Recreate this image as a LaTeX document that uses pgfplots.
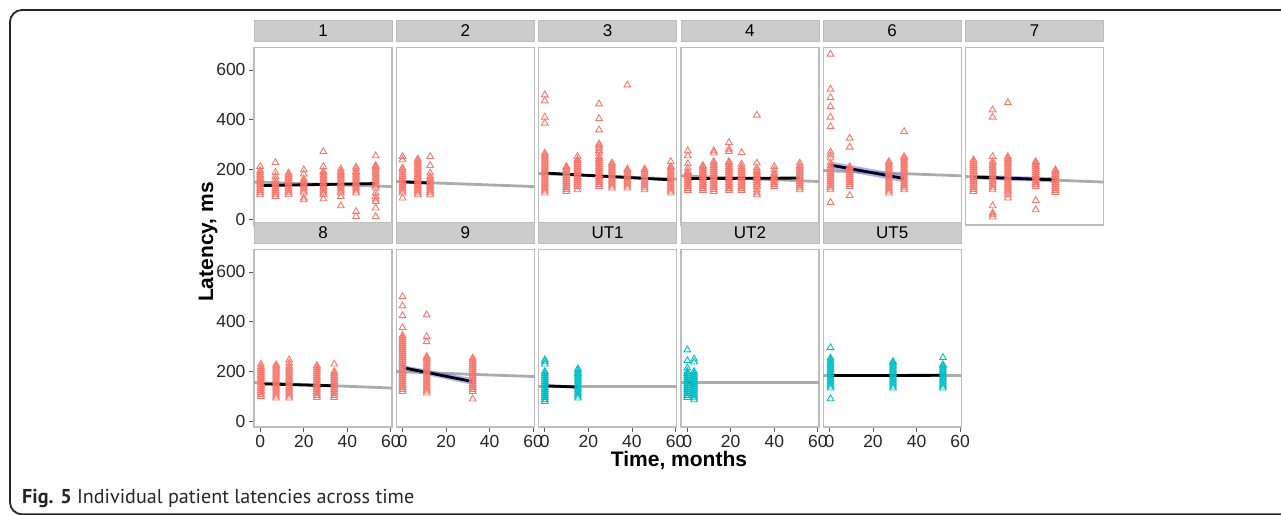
\documentclass[border=0pt]{standalone}
\usepackage{fontspec}
\setmainfont{Liberation Sans}
\newfontfamily\capfont{PT Sans}
\usepackage{pgfplots}
\pgfplotsset{compat=1.18}
\definecolor{ggred}{HTML}{F8766D}
\definecolor{ggcyan}{HTML}{00BFC4}
\definecolor{stripfill}{HTML}{CCCCCC}
\definecolor{panelborder}{HTML}{BDBDBD}
\definecolor{popgray}{HTML}{A3A3A3}
\definecolor{bandblue}{HTML}{6E6EFF}
\pgfplotsset{
  panel/.style={
    scale only axis, width=138pt, height=177.5pt,
    xmin=-2.85, xmax=60.5, ymin=-21, ymax=690,
    axis line style={draw=panelborder, line width=1.2pt},
    tick align=outside, major tick length=5pt,
    every tick/.style={black!65, line width=0.9pt},
    xtick={0,20,40,60}, ytick={0,200,400,600},
    xtick pos=left, ytick pos=left,
    tick label style={font=\fontsize{17.5}{17.5}\selectfont, text=black!85},
    /pgf/number format/assume math mode=true,
    title style={at={(0.5,1)}, anchor=south, yshift=0pt, fill=stripfill, draw=panelborder, line width=0.8pt,
      minimum width=138pt, minimum height=21pt, inner sep=0pt, font=\fontsize{17}{17}\selectfont, text=black},
  },
  noxt/.style={xtick=\empty},
  noyt/.style={ytick=\empty},
  pr/.style={only marks, mark=triangle, mark size=3.9pt, color=ggred, mark options={line width=0.9pt}},
  pc/.style={only marks, mark=triangle, mark size=3.9pt, color=ggcyan, mark options={line width=0.9pt}},
  pop/.style={color=popgray, line width=2.8pt, opacity=0.9},
  band/.style={fill=bandblue, fill opacity=0.55, draw=none},
  fit/.style={color=black, line width=2.8pt},
}
\begin{document}
\begin{tikzpicture}[x=1pt,y=1pt]
\useasboundingbox (0,0) rectangle (1281,514);
\draw[line width=1.8pt, color=black!85, rounded corners=12pt] (10,-0.3) rectangle (1310,504);

% ---------- Row 1 ----------
\begin{axis}[panel, noxt, title={1}, at={(254pt,289pt)}, anchor=south west]
\addplot[pr] coordinates {(0,100)(0,108)(0,116)(0,124)(0,132)(0,140)(0,148)(0,156)(0,164)(0,172)(0,180)(0,188)(0,196)(0,213)
(7,93)(7,100)(7,108)(7,116)(7,124)(7,132)(7,140)(7,147)(7,160)(7,173)(7,189)(7,229)
(13,100)(13,108)(13,116)(13,124)(13,132)(13,140)(13,148)(13,156)(13,164)(13,172)(13,180)(13,187)
(20,80)(20,87)(20,107)(20,115)(20,123)(20,131)(20,139)(20,147)(20,155)(20,163)(20,183)(20,200)
(29,84)(29,100)(29,107)(29,115)(29,123)(29,131)(29,139)(29,147)(29,155)(29,163)(29,171)(29,179)(29,187)(29,193)(29,213)(29,273)
(37,56)(37,93)(37,107)(37,115)(37,123)(37,131)(37,139)(37,147)(37,155)(37,163)(37,171)(37,179)(37,187)(37,193)(37,203)
(44,13)(44,33)(44,107)(44,115)(44,123)(44,131)(44,139)(44,147)(44,155)(44,163)(44,171)(44,179)(44,187)(44,193)(44,203)(44,211)
(53,13)(53,47)(53,73)(53,83)(53,93)(53,107)(53,127)(53,135)(53,143)(53,151)(53,159)(53,167)(53,175)(53,183)(53,191)(53,199)(53,207)(53,213)(53,217)(53,256)};
\addplot[pop] coordinates {(-2.85,151)(60.5,133)};
\addplot[band] coordinates {(0,132)(53,140)(53,150)(0,142)};
\addplot[fit] coordinates {(0,137)(53,145)};
\end{axis}

\begin{axis}[panel, noxt, noyt, title={2}, at={(396.3pt,289pt)}, anchor=south west]
\addplot[pr] coordinates {(0,87)(0,107)(0,115)(0,123)(0,131)(0,139)(0,147)(0,155)(0,163)(0,173)(0,180)(0,190)(0,200)(0,207)(0,240)(0,253)
(7,100)(7,108)(7,116)(7,124)(7,132)(7,140)(7,148)(7,156)(7,164)(7,172)(7,180)(7,188)(7,196)(7,204)(7,212)(7,220)(7,228)(7,236)(7,243)
(12.7,100)(12.7,108)(12.7,116)(12.7,124)(12.7,132)(12.7,140)(12.7,148)(12.7,156)(12.7,164)(12.7,173)(12.7,187)(12.7,217)(12.7,253)};
\addplot[pop] coordinates {(-2.85,153)(60.5,133)};
\addplot[band] coordinates {(0,146)(12.7,141)(12.7,153)(0,158)};
\addplot[fit] coordinates {(0,152)(12.7,147)};
\end{axis}

\begin{axis}[panel, noxt, noyt, title={3}, at={(538.6pt,289pt)}, anchor=south west]
\addplot[pr] coordinates {(0,107)(0,115)(0,123)(0,131)(0,139)(0,147)(0,155)(0,163)(0,171)(0,179)(0,187)(0,195)(0,203)(0,211)(0,219)(0,227)(0,235)(0,243)(0,251)(0,259)(0,267)(0,387)(0,411)(0,476)(0,500)
(9.9,113)(9.9,121)(9.9,129)(9.9,137)(9.9,145)(9.9,153)(9.9,161)(9.9,169)(9.9,177)(9.9,185)(9.9,193)(9.9,201)(9.9,209)(9.9,213)
(15,120)(15,133)(15,141)(15,149)(15,157)(15,165)(15,173)(15,181)(15,189)(15,197)(15,205)(15,213)(15,221)(15,229)(15,237)(15,240)(15,253)
(24.9,133)(24.9,141)(24.9,149)(24.9,157)(24.9,165)(24.9,173)(24.9,181)(24.9,189)(24.9,197)(24.9,205)(24.9,213)(24.9,221)(24.9,229)(24.9,237)(24.9,245)(24.9,253)(24.9,267)(24.9,277)(24.9,287)(24.9,297)(24.9,304)(24.9,360)(24.9,405)(24.9,464)
(30.8,127)(30.8,135)(30.8,143)(30.8,151)(30.8,159)(30.8,167)(30.8,175)(30.8,183)(30.8,191)(30.8,199)(30.8,207)(30.8,215)(30.8,223)(30.8,227)
(37.9,127)(37.9,135)(37.9,143)(37.9,151)(37.9,159)(37.9,167)(37.9,175)(37.9,183)(37.9,191)(37.9,199)(37.9,203)(37.9,540)
(45.8,120)(45.8,128)(45.8,136)(45.8,144)(45.8,152)(45.8,160)(45.8,168)(45.8,176)(45.8,184)(45.8,192)(45.8,200)(45.8,203)
(57.8,107)(57.8,115)(57.8,123)(57.8,131)(57.8,139)(57.8,147)(57.8,155)(57.8,163)(57.8,171)(57.8,179)(57.8,187)(57.8,195)(57.8,203)(57.8,211)(57.8,213)(57.8,233)};
\addplot[pop] coordinates {(-2.85,185)(60.5,163)};
\addplot[band] coordinates {(0,182)(57.8,155)(57.8,165)(0,192)};
\addplot[fit] coordinates {(0,187)(57.8,160)};
\end{axis}

\begin{axis}[panel, noxt, noyt, title={4}, at={(680.9pt,289pt)}, anchor=south west]
\addplot[pr] coordinates {(0.3,117)(0.3,125)(0.3,133)(0.3,141)(0.3,149)(0.3,157)(0.3,165)(0.3,173)(0.3,181)(0.3,189)(0.3,193)(0.3,207)(0.3,224)(0.3,256)(0.3,276)
(7.2,117)(7.2,125)(7.2,133)(7.2,141)(7.2,149)(7.2,157)(7.2,165)(7.2,173)(7.2,181)(7.2,189)(7.2,197)(7.2,205)(7.2,213)(7.2,217)
(12.2,113)(12.2,121)(12.2,129)(12.2,137)(12.2,145)(12.2,153)(12.2,161)(12.2,169)(12.2,177)(12.2,185)(12.2,193)(12.2,201)(12.2,209)(12.2,217)(12.2,225)(12.2,233)(12.2,267)(12.2,276)
(19.2,117)(19.2,125)(19.2,133)(19.2,141)(19.2,149)(19.2,157)(19.2,165)(19.2,173)(19.2,181)(19.2,189)(19.2,197)(19.2,205)(19.2,213)(19.2,221)(19.2,229)(19.2,233)(19.2,273)(19.2,283)(19.2,309)
(25,117)(25,125)(25,133)(25,141)(25,149)(25,157)(25,165)(25,173)(25,181)(25,189)(25,197)(25,205)(25,213)(25,223)(25,269)
(32,100)(32,110)(32,120)(32,133)(32,141)(32,149)(32,157)(32,165)(32,173)(32,181)(32,189)(32,197)(32,207)(32,227)(32,419)
(40,133)(40,141)(40,149)(40,157)(40,165)(40,173)(40,181)(40,187)(40,200)(40,213)
(51.7,120)(51.7,128)(51.7,136)(51.7,144)(51.7,152)(51.7,160)(51.7,168)(51.7,176)(51.7,184)(51.7,192)(51.7,200)(51.7,208)(51.7,216)(51.7,227)};
\addplot[pop] coordinates {(-2.85,176)(60.5,153)};
\addplot[band] coordinates {(0.3,161)(51.7,163)(51.7,171)(0.3,169)};
\addplot[fit] coordinates {(0.3,165)(51.7,167)};
\end{axis}

\begin{axis}[panel, noxt, noyt, title={6}, at={(823.2pt,289pt)}, anchor=south west]
\addplot[pr] coordinates {(0.5,69)(0.5,120)(0.5,128)(0.5,136)(0.5,144)(0.5,152)(0.5,160)(0.5,168)(0.5,176)(0.5,184)(0.5,192)(0.5,200)(0.5,208)(0.5,216)(0.5,227)(0.5,247)(0.5,259)(0.5,271)(0.5,373)(0.5,411)(0.5,453)(0.5,489)(0.5,523)(0.5,663)
(9.3,97)(9.3,133)(9.3,141)(9.3,149)(9.3,157)(9.3,165)(9.3,173)(9.3,181)(9.3,189)(9.3,197)(9.3,205)(9.3,213)(9.3,291)(9.3,327)
(27.3,107)(27.3,115)(27.3,123)(27.3,131)(27.3,139)(27.3,147)(27.3,155)(27.3,163)(27.3,171)(27.3,179)(27.3,187)(27.3,195)(27.3,203)(27.3,211)(27.3,219)(27.3,227)(27.3,233)
(34.3,120)(34.3,128)(34.3,136)(34.3,144)(34.3,152)(34.3,160)(34.3,168)(34.3,176)(34.3,184)(34.3,192)(34.3,200)(34.3,208)(34.3,216)(34.3,224)(34.3,232)(34.3,240)(34.3,248)(34.3,253)(34.3,353)};
\addplot[pop] coordinates {(-2.85,197)(60.5,176)};
\addplot[band] coordinates {(0.5,205)(34.3,150)(34.3,180)(0.5,233)};
\addplot[fit] coordinates {(0.5,219)(34.3,165)};
\end{axis}

\begin{axis}[panel, noxt, noyt, title={7}, at={(965.5pt,289pt)}, anchor=south west]
\addplot[pr] coordinates {(0.8,113)(0.8,121)(0.8,129)(0.8,137)(0.8,145)(0.8,153)(0.8,161)(0.8,169)(0.8,177)(0.8,185)(0.8,193)(0.8,201)(0.8,209)(0.8,217)(0.8,225)(0.8,233)(0.8,240)
(9.6,11)(9.6,20)(9.6,27)(9.6,56)(9.6,120)(9.6,128)(9.6,136)(9.6,144)(9.6,152)(9.6,160)(9.6,168)(9.6,176)(9.6,184)(9.6,192)(9.6,200)(9.6,208)(9.6,216)(9.6,224)(9.6,233)(9.6,253)(9.6,411)(9.6,440)
(16.6,87)(16.6,100)(16.6,110)(16.6,118)(16.6,126)(16.6,134)(16.6,142)(16.6,150)(16.6,158)(16.6,166)(16.6,174)(16.6,182)(16.6,190)(16.6,198)(16.6,206)(16.6,214)(16.6,222)(16.6,230)(16.6,238)(16.6,245)(16.6,253)(16.6,469)
(29.4,40)(29.4,77)(29.4,133)(29.4,141)(29.4,149)(29.4,157)(29.4,165)(29.4,173)(29.4,181)(29.4,189)(29.4,197)(29.4,205)(29.4,213)(29.4,221)(29.4,229)(29.4,233)
(38.4,109)(38.4,117)(38.4,125)(38.4,133)(38.4,141)(38.4,149)(38.4,157)(38.4,165)(38.4,173)(38.4,181)(38.4,189)(38.4,197)(38.4,200)};
\addplot[pop] coordinates {(-2.85,173)(60.5,151)};
\addplot[band] coordinates {(0.8,162)(38.4,150)(38.4,170)(0.8,180)};
\addplot[fit] coordinates {(0.8,171)(38.4,160)};
\end{axis}

% ---------- Row 2 ----------
\begin{axis}[panel, title={8}, at={(254pt,87pt)}, anchor=south west]
\addplot[pr] coordinates {(0.3,101)(0.3,109)(0.3,117)(0.3,125)(0.3,133)(0.3,141)(0.3,149)(0.3,157)(0.3,165)(0.3,173)(0.3,181)(0.3,189)(0.3,197)(0.3,205)(0.3,213)(0.3,221)(0.3,231)
(7.3,95)(7.3,103)(7.3,111)(7.3,119)(7.3,127)(7.3,135)(7.3,143)(7.3,151)(7.3,159)(7.3,167)(7.3,175)(7.3,183)(7.3,191)(7.3,199)(7.3,207)(7.3,215)(7.3,223)(7.3,228)
(13.3,95)(13.3,103)(13.3,111)(13.3,119)(13.3,127)(13.3,135)(13.3,143)(13.3,151)(13.3,159)(13.3,167)(13.3,175)(13.3,183)(13.3,191)(13.3,199)(13.3,207)(13.3,215)(13.3,223)(13.3,235)(13.3,248)
(26,97)(26,105)(26,113)(26,121)(26,129)(26,137)(26,145)(26,153)(26,161)(26,169)(26,177)(26,185)(26,193)(26,201)(26,209)(26,217)(26,225)
(34,97)(34,105)(34,113)(34,121)(34,129)(34,137)(34,145)(34,153)(34,161)(34,169)(34,177)(34,185)(34,193)(34,201)(34,231)};
\addplot[pop] coordinates {(-2.85,157)(60.5,135)};
\addplot[band] coordinates {(0.3,148)(34,140)(34,148)(0.3,156)};
\addplot[fit] coordinates {(0.3,152)(34,144)};
\end{axis}

\begin{axis}[panel, noyt, title={9}, at={(396.3pt,87pt)}, anchor=south west]
\addplot[pr] coordinates {(0,121)(0,129)(0,137)(0,145)(0,153)(0,161)(0,169)(0,177)(0,185)(0,193)(0,201)(0,209)(0,217)(0,225)(0,233)(0,241)(0,249)(0,257)(0,265)(0,273)(0,281)(0,289)(0,297)(0,305)(0,313)(0,321)(0,329)(0,337)(0,345)(0,377)(0,425)(0,464)(0,501)
(11.1,115)(11.1,123)(11.1,131)(11.1,139)(11.1,147)(11.1,155)(11.1,163)(11.1,171)(11.1,179)(11.1,187)(11.1,195)(11.1,203)(11.1,211)(11.1,219)(11.1,227)(11.1,235)(11.1,243)(11.1,251)(11.1,255)(11.1,261)(11.1,321)(11.1,341)(11.1,428)
(32.2,91)(32.2,121)(32.2,129)(32.2,137)(32.2,145)(32.2,153)(32.2,161)(32.2,169)(32.2,177)(32.2,185)(32.2,193)(32.2,201)(32.2,209)(32.2,217)(32.2,225)(32.2,233)(32.2,241)(32.2,249)(32.2,255)};
\addplot[pop] coordinates {(-2.85,201)(60.5,181)};
\addplot[band] coordinates {(0,207)(32.2,148)(32.2,174)(0,227)};
\addplot[fit] coordinates {(0,217)(32.2,161)};
\end{axis}

\begin{axis}[panel, noyt, title={UT1}, at={(538.6pt,87pt)}, anchor=south west]
\addplot[pc] coordinates {(0,81)(0,89)(0,97)(0,105)(0,113)(0,121)(0,129)(0,137)(0,145)(0,153)(0,161)(0,169)(0,177)(0,185)(0,193)(0,201)(0,231)(0,240)(0,248)
(15.2,95)(15.2,103)(15.2,111)(15.2,119)(15.2,127)(15.2,135)(15.2,143)(15.2,151)(15.2,159)(15.2,167)(15.2,175)(15.2,183)(15.2,191)(15.2,195)(15.2,204)(15.2,212)};
\addplot[pop] coordinates {(-2.85,141)(60.5,141)};
\addplot[band] coordinates {(0,138)(15.2,133)(15.2,145)(0,150)};
\addplot[fit] coordinates {(0,144)(15.2,139)};
\end{axis}

\begin{axis}[panel, noyt, title={UT2}, at={(680.9pt,87pt)}, anchor=south west]
\addplot[pc] coordinates {(0.1,97)(0.1,105)(0.1,113)(0.1,121)(0.1,129)(0.1,137)(0.1,145)(0.1,153)(0.1,161)(0.1,169)(0.1,177)(0.1,185)(0.1,193)(0.1,201)(0.1,215)(0.1,245)(0.1,288)
(3.2,88)(3.2,96)(3.2,104)(3.2,112)(3.2,120)(3.2,128)(3.2,136)(3.2,144)(3.2,152)(3.2,160)(3.2,168)(3.2,176)(3.2,184)(3.2,192)(3.2,201)(3.2,239)(3.2,251)};
\addplot[pop] coordinates {(-2.85,156)(60.5,156)};
\addplot[band] coordinates {(0.1,153)(3.2,140)(3.2,156)(0.1,169)};
\addplot[fit] coordinates {(0.1,161)(3.2,148)};
\end{axis}

\begin{axis}[panel, noyt, title={UT5}, at={(823.2pt,87pt)}, anchor=south west]
\addplot[pc] coordinates {(0.5,92)(0.5,135)(0.5,143)(0.5,151)(0.5,159)(0.5,167)(0.5,175)(0.5,183)(0.5,191)(0.5,199)(0.5,207)(0.5,215)(0.5,223)(0.5,231)(0.5,239)(0.5,247)(0.5,255)(0.5,297)
(29.2,135)(29.2,143)(29.2,151)(29.2,159)(29.2,167)(29.2,175)(29.2,183)(29.2,191)(29.2,199)(29.2,207)(29.2,215)(29.2,223)(29.2,231)(29.2,239)(29.2,241)
(52.1,135)(52.1,143)(52.1,151)(52.1,159)(52.1,167)(52.1,175)(52.1,183)(52.1,191)(52.1,199)(52.1,207)(52.1,215)(52.1,223)(52.1,228)(52.1,257)};
\addplot[pop] coordinates {(-2.85,185)(60.5,185)};
\addplot[band] coordinates {(0.5,181)(52.1,182)(52.1,190)(0.5,189)};
\addplot[fit] coordinates {(0.5,185)(52.1,186)};
\end{axis}

% axis titles and caption
\node[rotate=90, anchor=base, font=\bfseries\fontsize{21}{21}\selectfont] at (213,272) {Latency, ms};
\node[anchor=base, font=\bfseries\fontsize{21}{21}\selectfont] at (679,48) {Time, months};
\node[anchor=base west, inner sep=0pt, text=black!85] at (22,11) {\capfont\fontsize{20.1}{20.1}\selectfont\textbf{Fig. 5} Individual patient latencies across time};
\end{tikzpicture}
\end{document}
